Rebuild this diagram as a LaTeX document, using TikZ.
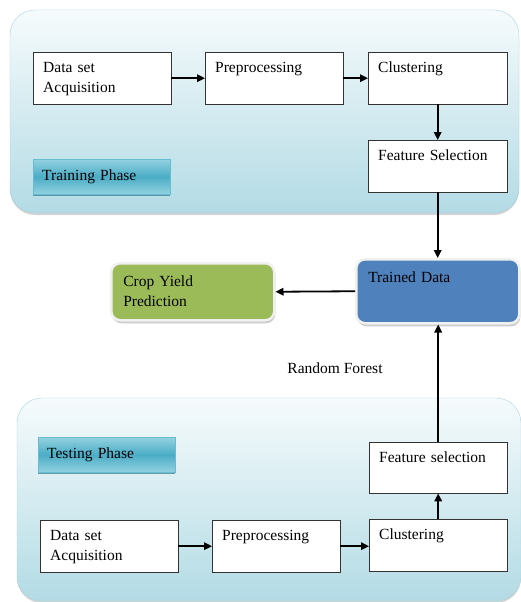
\documentclass[tikz,border=0pt]{standalone}
\usepackage{fontspec}
\setmainfont{Liberation Serif}
\usepackage{tikz}
\usetikzlibrary{arrows.meta, shadows}

\definecolor{panelTop}{HTML}{F6FBFC}
\definecolor{panelBot}{HTML}{B3DBE5}
\definecolor{panelLine}{HTML}{A6D5E0}
\definecolor{tabLight}{HTML}{93D2E0}
\definecolor{tabDark}{HTML}{4BACC6}
\definecolor{tabLine}{HTML}{66BCD0}
\definecolor{trainBlue}{HTML}{4F81BD}
\definecolor{cropGreen}{HTML}{9BBB59}

\begin{document}
\begin{tikzpicture}[x=1pt, y=-1pt,
    every node/.style={font=\fontsize{15.5}{20}\selectfont},
    panel/.style={draw=panelLine, rounded corners=25pt, top color=panelTop, bottom color=panelBot,
        drop shadow={shadow xshift=0pt, shadow yshift=-2pt, opacity=0.35, fill=gray}},
    stage/.style={draw=black!80, fill=white, anchor=north west, align=left, text width=118pt,
        inner xsep=10pt, inner ysep=6pt, text height=14pt, text depth=26pt},
    phase/.style={draw=tabLine, anchor=north west, align=left, text width=119pt, inner xsep=9pt,
        minimum height=35pt, top color=tabLight, bottom color=tabLight, middle color=tabDark,
        drop shadow={shadow xshift=0pt, shadow yshift=-2pt, opacity=0.7, fill=tabDark!70!black}},
    result/.style={draw=black!6, line width=2.5pt, rounded corners=9pt, anchor=north west, align=left,
        text width=139pt, inner xsep=12pt, inner ysep=9pt, text height=14pt,
        drop shadow={shadow xshift=1pt, shadow yshift=-3pt, opacity=0.4, fill=gray}},
    flow/.style={-{Triangle[length=8pt, width=7.5pt]}, line width=1.8pt}]
    \useasboundingbox (0,0) rectangle (521,602);

    % Training phase
    \node[panel, minimum width=509pt, minimum height=203pt] (trainpanel) at (264.5,111.5) {};
    \node[stage] (trainacq) at (33,52) {Data set\\Acquisition};
    \node[stage] (trainpre) at (205,52) {Preprocessing};
    \node[stage, text width=119pt] (trainclu) at (368,52) {Clustering};
    \node[stage, text width=119pt] (trainfeat) at (368,140) {Feature Selection};
    \node[phase] (traintab) at (33,159) {Training Phase};

    % Results
    \node[result, fill=trainBlue, text depth=32pt] (trained) at (355,258) {Trained Data};
    \node[result, fill=cropGreen, text depth=25pt] (crop) at (110,262) {Crop Yield\\Prediction};
    \node (forest) at (335,368) {Random Forest};

    % Testing phase
    \node[panel, minimum width=504pt, minimum height=203pt] (testpanel) at (269,499.5) {};
    \node[phase] (testtab) at (38,437) {Testing Phase};
    \node[stage, text depth=25pt] (testfeat) at (369,442) {Feature selection};
    \node[stage] (testacq) at (40,520) {Data set\\Acquisition};
    \node[stage, text width=108pt] (testpre) at (212,520) {Preprocessing};
    \node[stage] (testclu) at (369,519) {Clustering};

    % Arrows
    \draw[flow] (trainacq) -- (trainpre);
    \draw[flow] (trainpre) -- (trainclu);
    \draw[flow] (trainclu) -- (trainfeat);
    \draw[flow] (trainfeat.south) -- (trainfeat.south |- trained.north);
    \draw[flow] (trained.west) -- (crop.east);
    \draw[flow] (testacq.east) -- (testpre.west |- testacq.east);
    \draw[flow] (testpre.east |- testacq.east) -- (testclu.west |- testacq.east);
    \draw[flow] (testclu) -- (testfeat);
    \draw[flow] (testfeat.north) -- (testfeat.north |- trained.south);
\end{tikzpicture}
\end{document}
